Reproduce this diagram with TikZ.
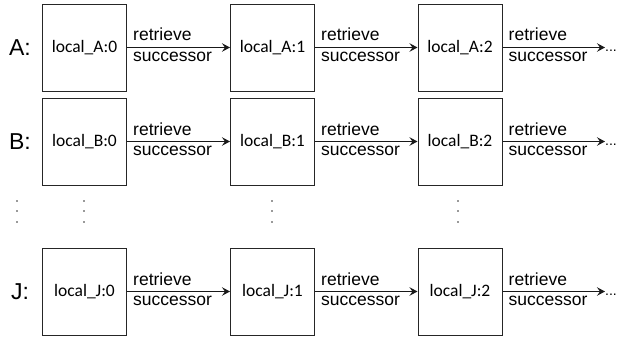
\documentclass[tikz,border=0pt]{standalone}
\usepackage{fontspec}
\setmainfont{Liberation Sans}
\newfontfamily\boxfont{Carlito}
\usetikzlibrary{arrows.meta}
\tikzset{
  cell/.style={draw=black!85, line width=1pt, minimum width=84pt, minimum height=87pt, inner sep=0pt, font=\boxfont\fontsize{17.5}{20}\selectfont},
  rowlbl/.style={inner sep=0pt, font=\fontsize{23}{26}\selectfont},
  arr/.style={line width=1.9pt, draw=black!90, -{Stealth[length=8pt,width=8.5pt,inset=3pt]}},
  toplbl/.style={anchor=base west, inner sep=0pt, font=\fontsize{17.5}{20}\selectfont},
  botlbl/.style={anchor=north west, inner sep=0pt, font=\fontsize{17.5}{20}\selectfont},
  dot/.style={circle, fill=black!80, inner sep=0pt, minimum size=1.8pt},
  more/.style={inner sep=0pt, anchor=west, font=\fontsize{14}{16}\selectfont}
}
\begin{document}
\begin{tikzpicture}[x=1pt,y=-1pt]
\useasboundingbox (0,0) rectangle (622,340);
% rows
\foreach \r/\y in {A/47.5, B/141.5, J/291.5}{
  \node[rowlbl] (L\r) at (20,\y) {\r:};
  \node[cell] (\r0) at (84.5,\y) {local\_\r:0};
  \node[cell] (\r1) at (272.5,\y) {local\_\r:1};
  \node[cell] (\r2) at (460,\y) {local\_\r:2};
  \node[more] (M\r) at (605,\y+3) {...};
  \draw[arr] (\r0.east) -- (\r1.west);
  \draw[arr] (\r1.east) -- (\r2.west);
  \draw[arr] (\r2.east) -- (605,\y);
  \foreach \a in {0,1,2}{
    \node[toplbl] at ([xshift=6pt,yshift=6.5pt]\r\a.east) {retrieve};
    \node[botlbl] at ([xshift=6pt,yshift=-4pt]\r\a.east) {successor};
  }
}
% vertical dots
\foreach \x in {17,84,272,458}{
  \foreach \yy in {201,211,222}{
    \node[dot] at (\x,\yy) {};
  }
}
\end{tikzpicture}
\end{document}
